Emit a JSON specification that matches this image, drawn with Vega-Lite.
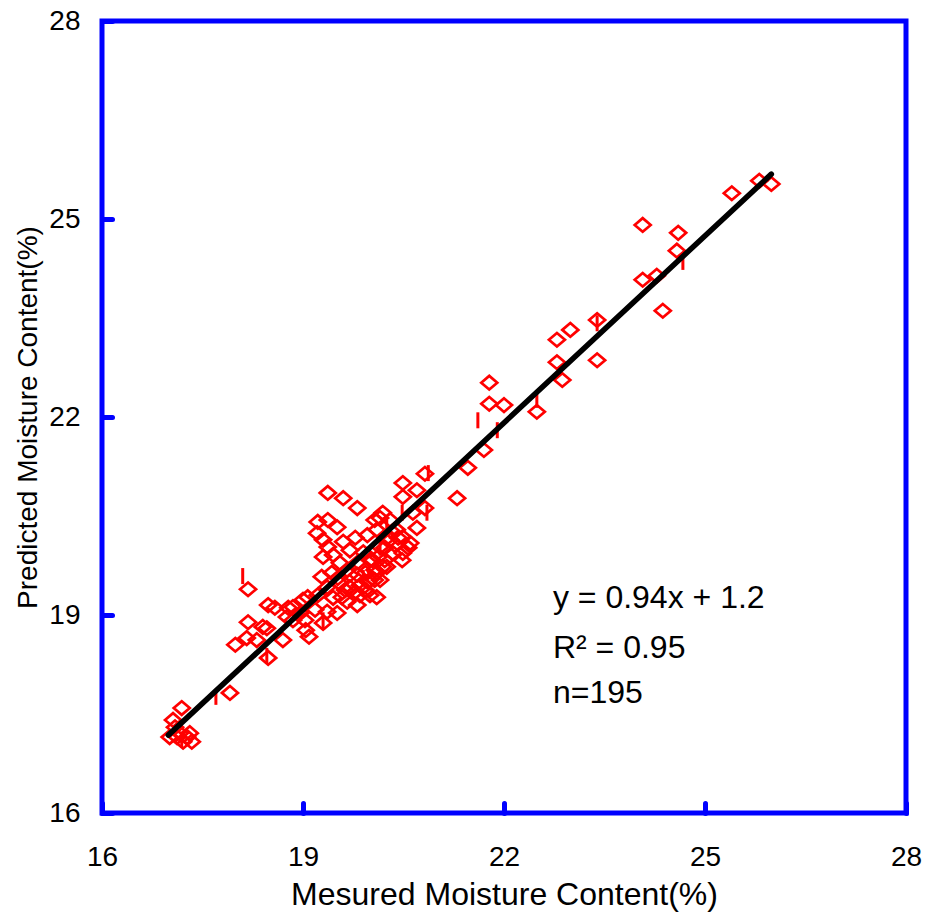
{
  "$schema": "https://vega.github.io/schema/vega-lite/v6.json",
  "width": 804,
  "height": 792,
  "autosize": {"type": "none"},
  "padding": {"left": 102, "top": 21, "right": 23, "bottom": 102},
  "background": "white",
  "config": {
    "view": {"stroke": "#0000ff", "strokeWidth": 5},
    "font": "Liberation Sans",
    "axis": {
      "grid": false,
      "domain": false,
      "ticks": true,
      "tickSize": -10,
      "tickWidth": 5,
      "tickColor": "#0000ff",
      "tickCap": "round",
      "labelFlush": false,
      "labelOverlap": false,
      "labelFont": "Liberation Sans",
      "labelFontSize": 28,
      "labelColor": "#000000",
      "labelFontWeight": "normal",
      "titleFont": "Liberation Sans",
      "titleFontWeight": "normal",
      "titleColor": "#000000"
    }
  },
  "datasets": {
    "diamonds": [
      {"measured": 25.40, "predicted": 25.39}, {"measured": 25.81, "predicted": 25.58}, {"measured": 25.99, "predicted": 25.53},
      {"measured": 24.07, "predicted": 24.91}, {"measured": 24.60, "predicted": 24.79}, {"measured": 24.58, "predicted": 24.52},
      {"measured": 24.07, "predicted": 24.08}, {"measured": 24.28, "predicted": 24.14}, {"measured": 24.37, "predicted": 23.61},
      {"measured": 23.39, "predicted": 23.47}, {"measured": 22.99, "predicted": 23.32}, {"measured": 22.79, "predicted": 23.17},
      {"measured": 22.79, "predicted": 22.83}, {"measured": 22.87, "predicted": 22.56}, {"measured": 23.39, "predicted": 22.86},
      {"measured": 21.78, "predicted": 22.52}, {"measured": 21.78, "predicted": 22.20}, {"measured": 22.00, "predicted": 22.18},
      {"measured": 22.49, "predicted": 22.08}, {"measured": 21.70, "predicted": 21.50}, {"measured": 21.46, "predicted": 21.23},
      {"measured": 21.30, "predicted": 20.77}, {"measured": 20.82, "predicted": 21.14},
      {"measured": 20.49, "predicted": 21.00}, {"measured": 20.70, "predicted": 20.89}, {"measured": 20.49, "predicted": 20.79},
      {"measured": 20.82, "predicted": 20.62}, {"measured": 20.64, "predicted": 20.55}, {"measured": 20.15, "predicted": 20.47},
      {"measured": 20.30, "predicted": 20.44}, {"measured": 20.70, "predicted": 20.32}, {"measured": 20.49, "predicted": 20.18},
      {"measured": 20.10, "predicted": 20.29}, {"measured": 20.40, "predicted": 20.29}, {"measured": 20.30, "predicted": 20.14},
      {"measured": 20.60, "predicted": 20.09}, {"measured": 20.49, "predicted": 19.94}, {"measured": 20.34, "predicted": 19.94},
      {"measured": 20.15, "predicted": 20.03}, {"measured": 20.57, "predicted": 20.02}, {"measured": 20.48, "predicted": 19.83},
      {"measured": 20.04, "predicted": 19.83}, {"measured": 20.19, "predicted": 19.73}, {"measured": 20.10, "predicted": 19.64},
      {"measured": 19.37, "predicted": 20.85}, {"measured": 19.60, "predicted": 20.77}, {"measured": 19.81, "predicted": 20.62},
      {"measured": 19.22, "predicted": 20.41}, {"measured": 19.37, "predicted": 20.44}, {"measured": 19.51, "predicted": 20.33},
      {"measured": 19.21, "predicted": 20.24}, {"measured": 19.30, "predicted": 20.14}, {"measured": 19.60, "predicted": 20.11},
      {"measured": 19.37, "predicted": 20.03}, {"measured": 19.78, "predicted": 20.17}, {"measured": 19.96, "predicted": 20.21},
      {"measured": 20.07, "predicted": 20.44}, {"measured": 20.19, "predicted": 20.55}, {"measured": 19.45, "predicted": 19.91},
      {"measured": 19.30, "predicted": 19.88}, {"measured": 19.70, "predicted": 19.98}, {"measured": 19.90, "predicted": 19.95},
      {"measured": 19.55, "predicted": 19.79}, {"measured": 19.28, "predicted": 19.58}, {"measured": 19.43, "predicted": 19.64},
      {"measured": 19.66, "predicted": 19.68}, {"measured": 19.82, "predicted": 19.80}, {"measured": 20.00, "predicted": 19.83},
      {"measured": 20.12, "predicted": 19.88}, {"measured": 19.81, "predicted": 19.61}, {"measured": 19.93, "predicted": 19.64},
      {"measured": 20.07, "predicted": 19.68}, {"measured": 19.36, "predicted": 19.42}, {"measured": 19.55, "predicted": 19.48},
      {"measured": 19.70, "predicted": 19.42}, {"measured": 19.93, "predicted": 19.38}, {"measured": 20.00, "predicted": 19.30},
      {"measured": 20.10, "predicted": 19.27}, {"measured": 19.07, "predicted": 19.27}, {"measured": 19.22, "predicted": 19.30},
      {"measured": 19.45, "predicted": 19.26}, {"measured": 19.66, "predicted": 19.20}, {"measured": 19.18, "predicted": 19.08},
      {"measured": 19.36, "predicted": 19.05}, {"measured": 19.51, "predicted": 19.03}, {"measured": 18.96, "predicted": 19.03},
      {"measured": 18.85, "predicted": 19.12}, {"measured": 19.03, "predicted": 18.92}, {"measured": 19.30, "predicted": 18.88},
      {"measured": 19.81, "predicted": 19.15}, {"measured": 20.15, "predicted": 19.53}, {"measured": 20.25, "predicted": 19.73},
      {"measured": 18.18, "predicted": 19.39}, {"measured": 18.48, "predicted": 19.15}, {"measured": 18.58, "predicted": 19.11},
      {"measured": 18.78, "predicted": 19.11}, {"measured": 18.18, "predicted": 18.89}, {"measured": 18.40, "predicted": 18.82},
      {"measured": 18.46, "predicted": 18.80}, {"measured": 17.99, "predicted": 18.55}, {"measured": 18.16, "predicted": 18.65},
      {"measured": 18.31, "predicted": 18.62}, {"measured": 18.70, "predicted": 18.62}, {"measured": 18.48, "predicted": 18.35},
      {"measured": 17.91, "predicted": 17.82}, {"measured": 17.19, "predicted": 17.59}, {"measured": 17.06, "predicted": 17.41},
      {"measured": 17.01, "predicted": 17.15}, {"measured": 17.16, "predicted": 17.21}, {"measured": 17.31, "predicted": 17.21},
      {"measured": 17.34, "predicted": 17.08}, {"measured": 17.21, "predicted": 17.08}, {"measured": 17.09, "predicted": 17.30},
      {"measured": 18.76, "predicted": 18.97}, {"measured": 18.85, "predicted": 18.92}, {"measured": 19.00, "predicted": 19.23},
      {"measured": 19.04, "predicted": 18.77}, {"measured": 19.09, "predicted": 18.67}, {"measured": 17.12, "predicted": 17.15},
      {"measured": 17.27, "predicted": 17.15},
      {"measured": 19.70, "predicted": 19.61}, {"measured": 19.85, "predicted": 19.45}, {"measured": 20.03, "predicted": 19.56},
      {"measured": 20.22, "predicted": 19.83}, {"measured": 20.37, "predicted": 20.06}, {"measured": 19.85, "predicted": 19.30},
      {"measured": 19.63, "predicted": 19.38}, {"measured": 19.52, "predicted": 19.56}, {"measured": 20.22, "predicted": 20.02},
      {"measured": 20.42, "predicted": 20.17}, {"measured": 20.33, "predicted": 20.26}, {"measured": 20.07, "predicted": 19.53},
      {"measured": 19.97, "predicted": 19.50}, {"measured": 19.78, "predicted": 19.35}, {"measured": 19.58, "predicted": 19.27}
    ],
    "dashes": [
      {"measured": 18.10, "predicted": 19.59}, {"measured": 17.70, "predicted": 17.76}, {"measured": 18.46, "predicted": 18.38},
      {"measured": 17.19, "predicted": 17.11}, {"measured": 19.30, "predicted": 18.92}, {"measured": 21.61, "predicted": 21.95},
      {"measured": 21.90, "predicted": 21.80}, {"measured": 22.49, "predicted": 22.26}, {"measured": 23.39, "predicted": 23.42},
      {"measured": 24.67, "predicted": 24.35}, {"measured": 20.85, "predicted": 20.55}, {"measured": 20.25, "predicted": 20.32},
      {"measured": 20.15, "predicted": 20.02}, {"measured": 19.90, "predicted": 19.56}, {"measured": 20.87, "predicted": 21.15},
      {"measured": 20.48, "predicted": 20.55}
    ],
    "fit": [
      {"measured": 16.99, "predicted": 17.18},
      {"measured": 25.99, "predicted": 25.68}
    ],
    "notes": [
      {"label": "y = 0.94x + 1.2", "measured": 22.73, "predicted": 19.26},
      {"label": "R² = 0.95", "measured": 22.73, "predicted": 18.50},
      {"label": "n=195", "measured": 22.73, "predicted": 17.82}
    ]
  },
  "encoding": {
    "x": {
      "field": "measured",
      "type": "quantitative",
      "scale": {"domain": [16, 28], "nice": false, "zero": false},
      "axis": {
        "title": "Mesured Moisture Content(%)",
        "values": [16, 19, 22, 25, 28],
        "labelPadding": 40,
        "titleFontSize": 32,
        "titlePadding": 8
      }
    },
    "y": {
      "field": "predicted",
      "type": "quantitative",
      "scale": {"domain": [16, 28], "nice": false, "zero": false},
      "axis": {
        "title": "Predicted Moisture Content(%)",
        "values": [16, 19, 22, 25, 28],
        "labelPadding": 32,
        "titleFontSize": 28,
        "titlePadding": 6
      }
    }
  },
  "layer": [
    {
      "data": {"name": "diamonds"},
      "mark": {
        "type": "point",
        "shape": "M-1,0L0,-0.85L1,0L0,0.85Z",
        "size": 256,
        "filled": false,
        "stroke": "#ff0000",
        "strokeWidth": 2.7,
        "opacity": 1
      }
    },
    {
      "data": {"name": "dashes"},
      "mark": {
        "type": "point",
        "shape": "M0,-1L0,1",
        "size": 256,
        "filled": false,
        "stroke": "#ff0000",
        "strokeWidth": 3,
        "opacity": 1
      }
    },
    {
      "data": {"name": "fit"},
      "mark": {"type": "line", "color": "#000000", "strokeWidth": 5.5, "strokeCap": "round"}
    },
    {
      "data": {"name": "notes"},
      "mark": {
        "type": "text",
        "align": "left",
        "baseline": "middle",
        "font": "Liberation Sans",
        "fontSize": 32,
        "color": "#000000"
      },
      "encoding": {"text": {"field": "label", "type": "nominal"}}
    }
  ]
}
